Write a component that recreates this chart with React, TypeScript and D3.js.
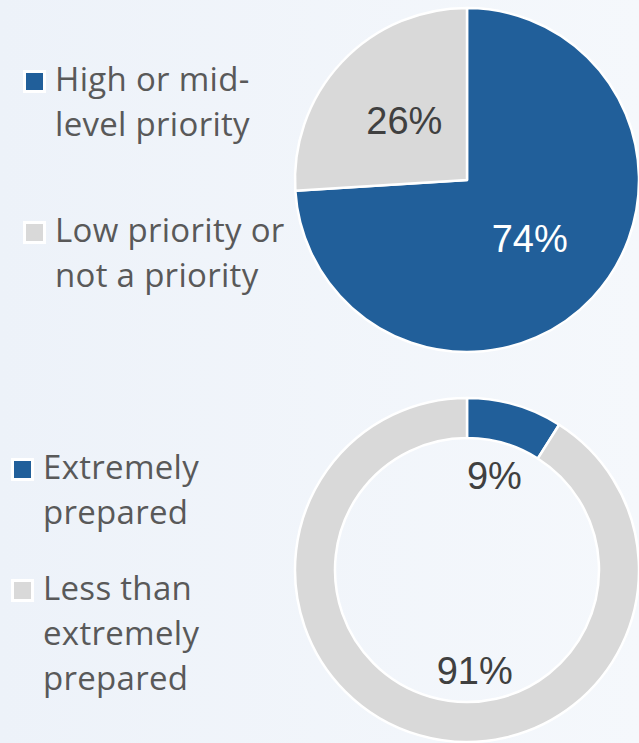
import React from "react";
import * as d3 from "d3";

const W = 639;
const H = 743;

const priorityLabels = ["High or mid-level priority", "Low priority or not a priority"];
const priorityLegendLines = [["High or mid-", "level priority"], ["Low priority or", "not a priority"]];
const priorityValues = [74, 26];

const preparedLabels = ["Extremely prepared", "Less than extremely prepared"];
const preparedLegendLines = [["Extremely", "prepared"], ["Less than", "extremely", "prepared"]];
const preparedValues = [9, 91];

const BLUE = "#215f9a";
const GRAY = "#d9d9d9";
const colors = [BLUE, GRAY];
const labelColors = ["#ffffff", "#404040"];

const LEGEND_FONT = "'Open Sans', Lato, sans-serif";
const LABEL_FONT = "'Liberation Sans', Arial, sans-serif";

function Legend({ x, y, lines, gap }: { x: number; y: number; lines: string[][]; gap: number }) {
  const lh = 45;
  let cy = y;
  return (
    <g>
      {lines.map((ls, i) => {
        const top = cy;
        cy += ls.length * lh + gap;
        return (
          <g key={i}>
            <rect x={x} y={top - 21} width={23} height={23} fill="#ffffff" />
            <rect x={x + 3} y={top - 18} width={17} height={17} fill={colors[i]} />
            <text
              x={x + 32}
              y={top}
              fontFamily={LEGEND_FONT}
              fontSize={33}
              letterSpacing={0.3}
              fill="#595959"
            >
              {ls.map((l, j) => (
                <tspan key={j} x={x + 32} dy={j === 0 ? 0 : lh}>
                  {l}
                </tspan>
              ))}
            </text>
          </g>
        );
      })}
    </g>
  );
}

function PieChart({
  cx,
  cy,
  values,
  inner,
  outer,
  labelR,
  labelFill,
  nudges,
}: {
  cx: number;
  cy: number;
  values: number[];
  inner: number;
  outer: number;
  labelR: number;
  labelFill: string[];
  nudges: number[][];
}) {
  const pie = d3.pie<number>().sort(null).value((d) => d);
  const arcs = pie(values);
  const arc = d3.arc<d3.PieArcDatum<number>>().innerRadius(inner).outerRadius(outer);
  const labelArc = d3.arc<d3.PieArcDatum<number>>().innerRadius(labelR).outerRadius(labelR);
  const fmt = (v: number) => `${v}%`;
  return (
    <g transform={`translate(${cx},${cy})`}>
      {arcs.map((a, i) => (
        <path key={i} d={arc(a) || ""} fill={colors[i]} stroke="#ffffff" strokeWidth={2.5} strokeLinejoin="round" />
      ))}
      {arcs.map((a, i) => {
        const [lx, ly] = labelArc.centroid(a);
        return (
          <text
            key={"l" + i}
            x={lx + nudges[i][0]}
            y={ly + nudges[i][1]}
            textAnchor="middle"
            dominantBaseline="central"
            fontFamily={LABEL_FONT}
            fontSize={38}
            fill={labelFill[i]}
          >
            {fmt(a.data)}
          </text>
        );
      })}
    </g>
  );
}

export default function App() {
  return (
    <svg
      width={W}
      height={H}
      viewBox={`0 0 ${W} ${H}`}
      style={{ position: "absolute", left: 0, top: 0, display: "block" }}
    >
      <defs>
        <linearGradient id="bg" x1="0" y1="0" x2="1" y2="0">
          <stop offset="0" stopColor="#edf2f9" />
          <stop offset="1" stopColor="#f5f8fc" />
        </linearGradient>
      </defs>
      <rect x={0} y={0} width={W} height={H} fill="url(#bg)" />
      <title>{priorityLabels.join(" / ") + " ; " + preparedLabels.join(" / ")}</title>

      <Legend x={23} y={91} lines={priorityLegendLines} gap={61} />
      <PieChart
        cx={467}
        cy={180}
        values={priorityValues}
        inner={0}
        outer={172}
        labelR={86}
        labelFill={[labelColors[0], labelColors[1]]}
        nudges={[[0, 0], [0, 0]]}
      />

      <Legend x={11} y={479} lines={preparedLegendLines} gap={31} />
      <PieChart
        cx={467}
        cy={570}
        values={preparedValues}
        inner={132}
        outer={172}
        labelR={98}
        labelFill={[labelColors[1], labelColors[1]]}
        nudges={[[0, 0], [35, 7]]}
      />
    </svg>
  );
}
